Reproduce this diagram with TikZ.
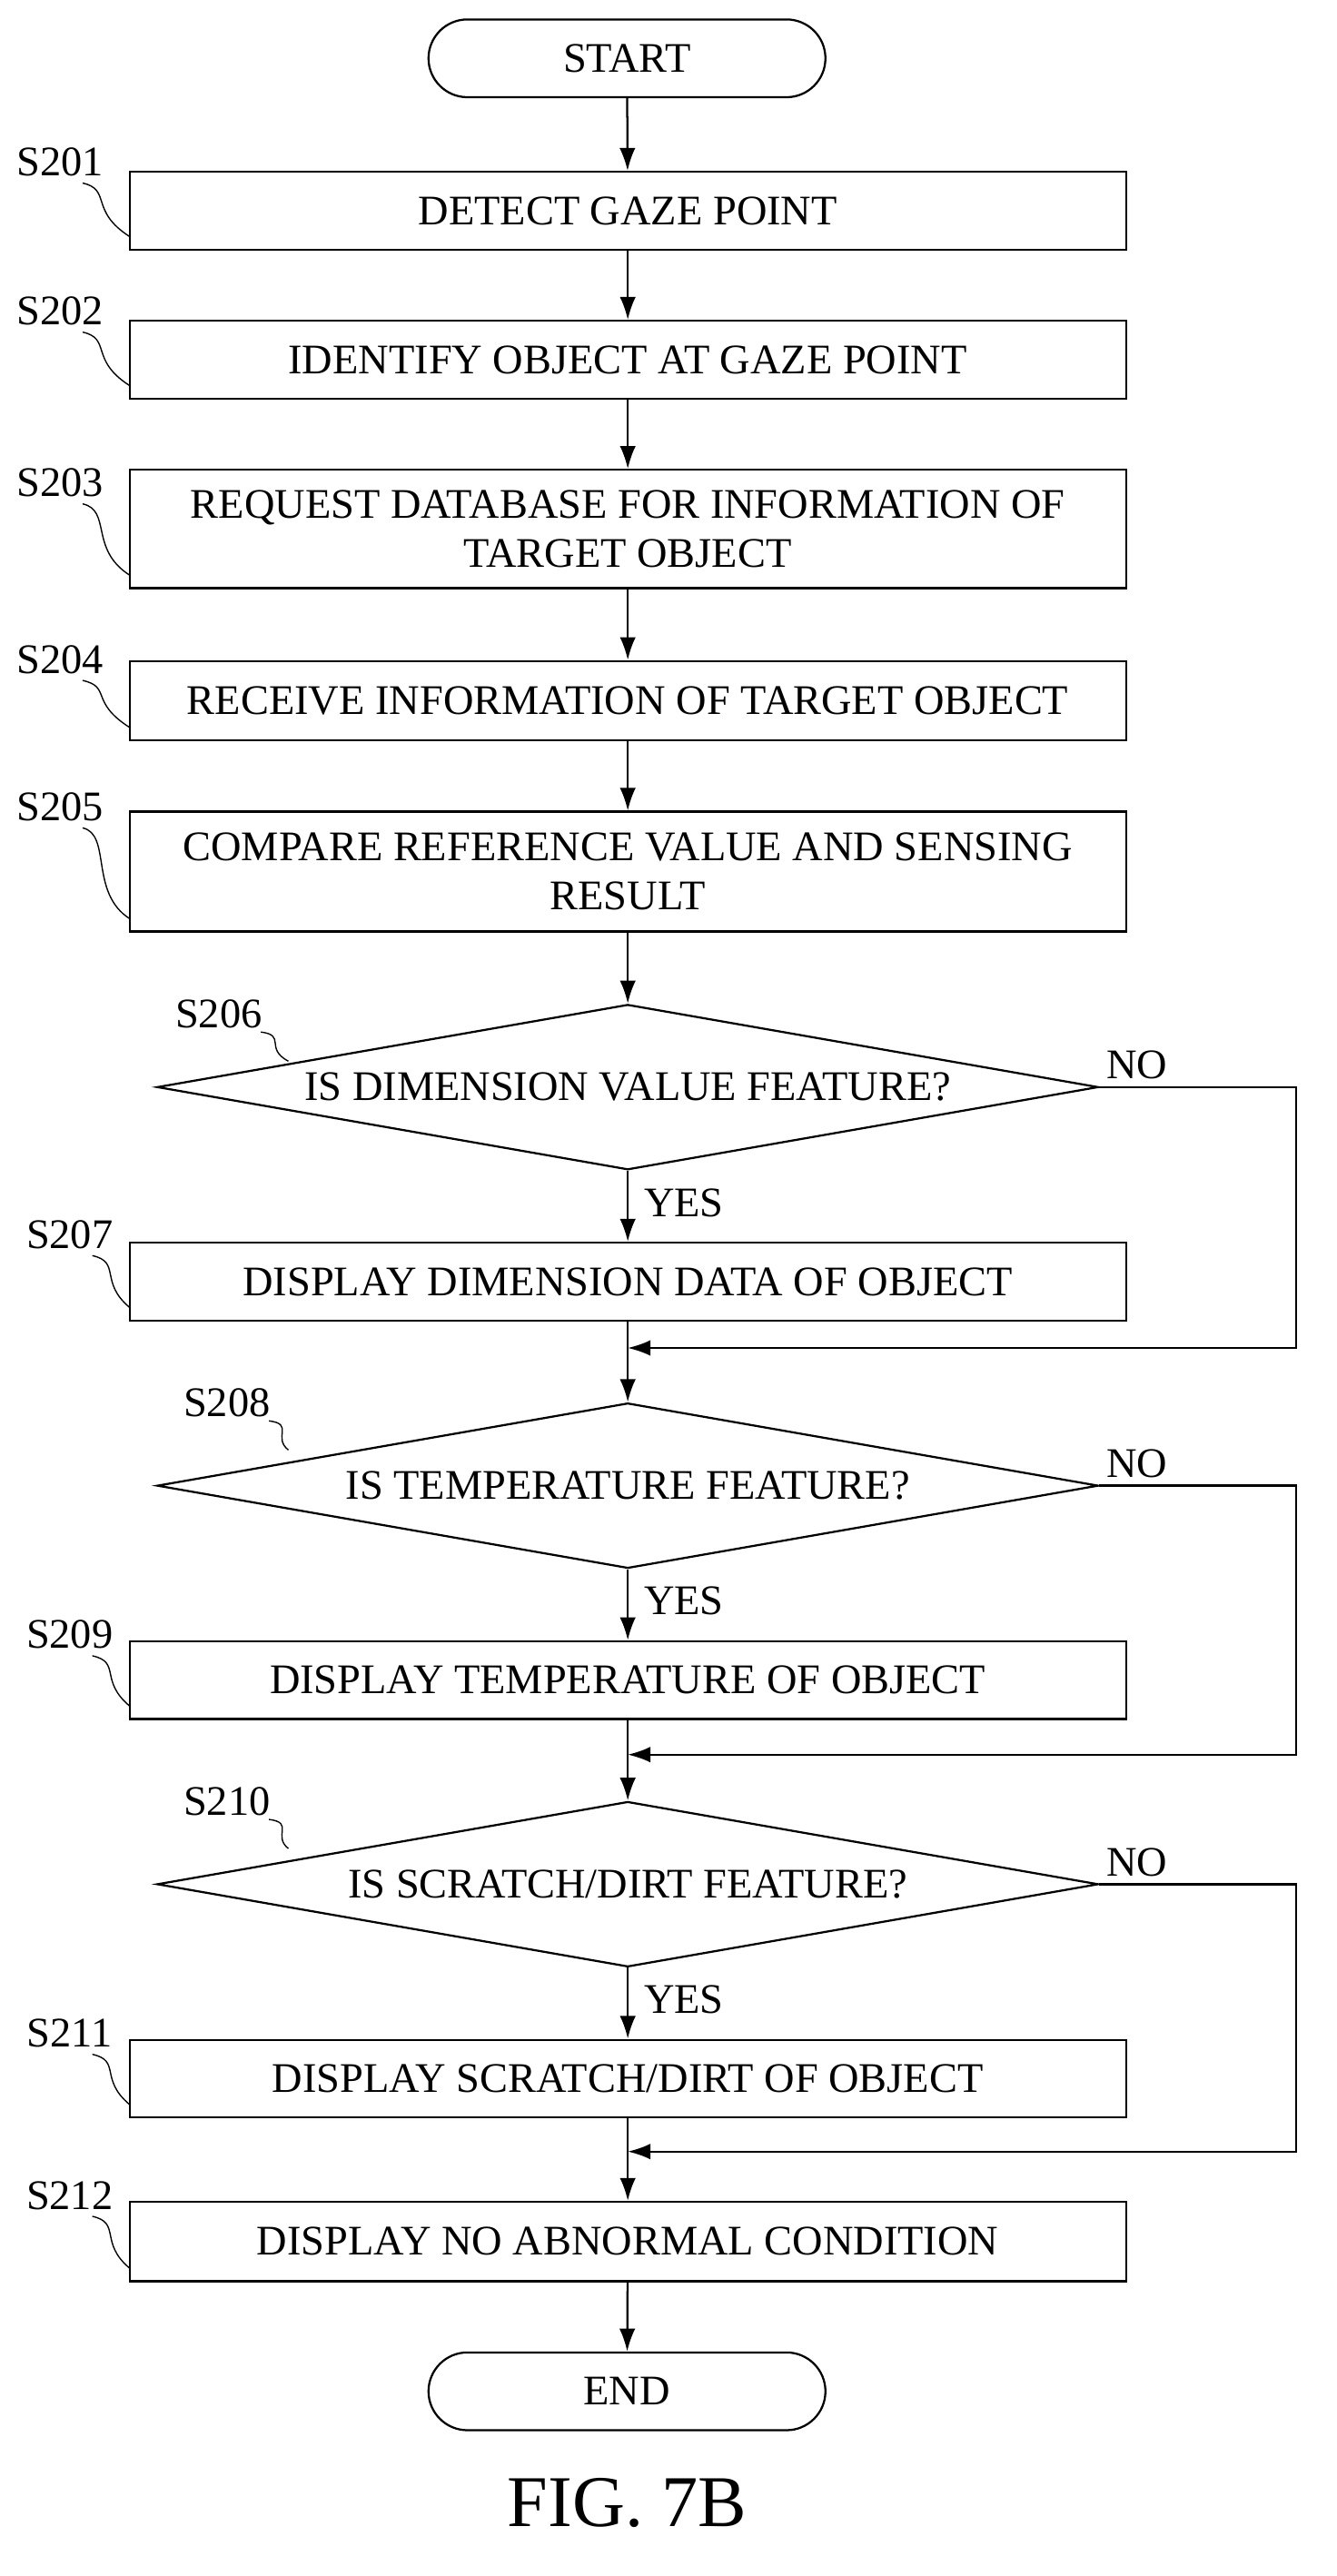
\documentclass[tikz,border=0pt]{standalone}
\usepackage{fontspec}
\setmainfont{Liberation Serif}
\usetikzlibrary{shapes.geometric,arrows.meta}
\begin{document}
\begin{tikzpicture}[x=0.05cm,y=-0.05cm,
  font=\fontsize{37}{43}\selectfont,
  every path/.style={line width=1.8pt},
  box/.style={draw,minimum width=615*0.05cm,align=center,inner sep=0pt},
  term/.style={draw,rounded corners=24*0.05cm,minimum width=245*0.05cm,minimum height=48*0.05cm},
  dia/.style={draw,diamond,aspect=5.7,minimum width=581*0.05cm,minimum height=102*0.05cm,inner sep=0pt},
  arr/.style={-{Latex[length=20pt,width=14pt]}},
  lab/.style={anchor=south east}]
\useasboundingbox (0,0) rectangle (825,1590);
\node[term] (start) at (387,36) {START};
\node[box,minimum height=48*0.05cm] (b1) at (387.5,130) {DETECT GAZE POINT};
\node[box,minimum height=48*0.05cm] (b2) at (387.5,222) {IDENTIFY OBJECT AT GAZE POINT};
\node[box,minimum height=73*0.05cm] (b3) at (387.5,326.5) {REQUEST DATABASE FOR INFORMATION OF\\TARGET OBJECT};
\node[box,minimum height=49*0.05cm] (b4) at (387.5,432.5) {RECEIVE INFORMATION OF TARGET OBJECT};
\node[box,minimum height=74*0.05cm] (b5) at (387.5,538) {COMPARE REFERENCE VALUE AND SENSING\\RESULT};
\node[dia] (d1) at (387.5,671) {IS DIMENSION VALUE FEATURE?};
\node[box,minimum height=48*0.05cm] (b7) at (387.5,791) {DISPLAY DIMENSION DATA OF OBJECT};
\node[dia] (d2) at (387.5,917) {IS TEMPERATURE FEATURE?};
\node[box,minimum height=48*0.05cm] (b9) at (387.5,1037) {DISPLAY TEMPERATURE OF OBJECT};
\node[dia] (d3) at (387.5,1163) {IS SCRATCH/DIRT FEATURE?};
\node[box,minimum height=48*0.05cm] (b11) at (387.5,1283) {DISPLAY SCRATCH/DIRT OF OBJECT};
\node[box,minimum height=49*0.05cm] (b12) at (387.5,1383.5) {DISPLAY NO ABNORMAL CONDITION};
\node[term] (end) at (387,1476) {END};
\node (fig) at (387,1545) {\fontsize{64}{70}\selectfont FIG. 7B};
\coordinate (m1) at (387.5,832);
\coordinate (m2) at (387.5,1083);
\coordinate (m3) at (387.5,1328);
\draw[arr] (start) -- (b1);
\draw[arr] (b1) -- (b2);
\draw[arr] (b2) -- (b3);
\draw[arr] (b3) -- (b4);
\draw[arr] (b4) -- (b5);
\draw[arr] (b5) -- (d1);
\draw[arr] (d1) -- node[right=10pt,pos=0.45]{YES} (b7);
\draw[arr] (d2) -- node[right=10pt,pos=0.45]{YES} (b9);
\draw[arr] (d3) -- node[right=10pt,pos=0.45]{YES} (b11);
\draw (b7) -- (m1); \draw[arr] (m1) -- (d2);
\draw (b9) -- (m2); \draw[arr] (m2) -- (d3);
\draw (b11) -- (m3); \draw[arr] (m3) -- (b12);
\draw[arr] (b12) -- (end);
\draw[arr] (d1.east) -- (800,671) -- (800,832) -- (m1);
\draw[arr] (d2.east) -- (800,917) -- (800,1083) -- (m2);
\draw[arr] (d3.east) -- (800,1163) -- (800,1328) -- (m3);
\node[anchor=south west] (n1) at (680,669) {NO};
\node[anchor=south west] (n2) at (680,915) {NO};
\node[anchor=south west] (n3) at (680,1161) {NO};
\foreach \t/\x/\y/\ex/\ey in {S201/37/100/80/152,S202/37/192/80/244,S203/37/298/80/361,S204/37/407/80/455,S205/37/498/80/573,S207/43/762/80/813,S209/43/1009/80/1059,S211/43/1255/80/1305,S212/43/1355/80/1406}{
  \node at (\x,\y) {\t};
  \draw[line width=1.1pt] (\x+14,\y+13) .. controls (\x+32,\y+17) and (\x+18,\ey-22) .. (\ex,\ey-6);
}
\foreach \t/\x/\y/\ex/\ey in {S206/135/626/178/655,S208/140/866/178/895,S210/140/1112/178/1141}{
  \node at (\x,\y) {\t};
  \draw[line width=1.1pt] (\x+26,\y+11) .. controls (\x+42,\y+13) and (\x+28,\ey-8) .. (\ex,\ey);
}
\end{tikzpicture}
\end{document}
